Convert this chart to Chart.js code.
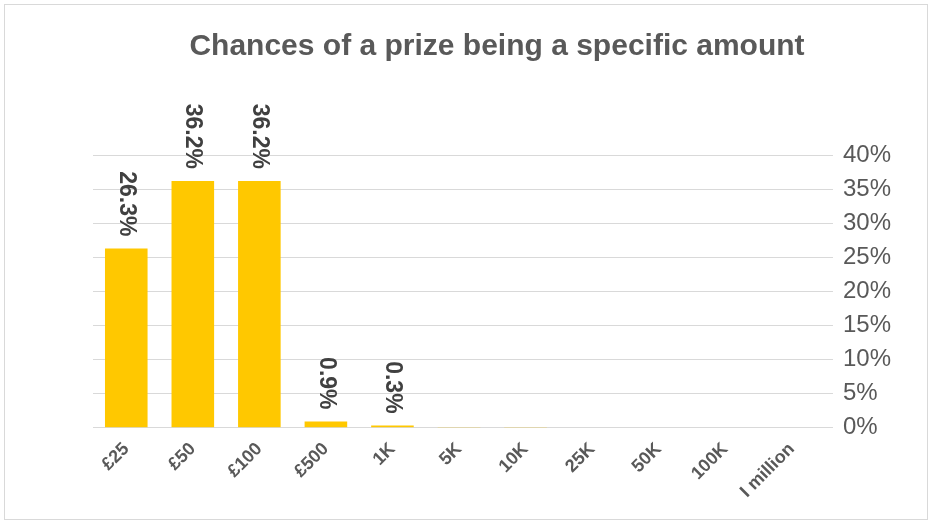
<!DOCTYPE html>
<html><head><meta charset="utf-8">
<script src="https://cdn.jsdelivr.net/npm/chart.js@4"></script>
<style>
body{margin:0;background:#fff;}
#wrap{position:absolute;left:4px;top:4px;width:922px;height:514px;border:1px solid #d9d9d9;}
</style></head><body>
<div id="wrap"><canvas id="c"></canvas></div>
<script>
const categories = ["£25","£50","£100","£500","1K","5K","10K","25K","50K","100K","I million"];
const values = [26.3,36.2,36.2,0.9,0.3,0.02,0.01,0,0,0,0];
const labels = ["26.3%","36.2%","36.2%","0.9%","0.3%","","","","","",""];

const barLabels = {
  id: 'barLabels',
  afterDatasetsDraw(chart) {
    const ctx = chart.ctx;
    chart.getDatasetMeta(0).data.forEach((bar, i) => {
      if (!labels[i]) return;
      ctx.save();
      ctx.translate(bar.x, bar.y - 12);
      ctx.rotate(Math.PI / 2);
      ctx.font = 'bold 23px Liberation Sans, Arial';
      ctx.fillStyle = '#404040';
      ctx.textAlign = 'right';
      ctx.textBaseline = 'middle';
      ctx.fillText(labels[i], 0, 0);
      ctx.restore();
    });
  }
};

new Chart(document.getElementById('c'), {
  type: 'bar',
  data: {
    labels: categories,
    datasets: [{ data: values, backgroundColor: '#ffc800', categoryPercentage: 1, barPercentage: 0.64 }]
  },
  options: {
    responsive: true, maintainAspectRatio: false, animation: false,
    layout: { padding: { left: 88, right: 26, top: 0, bottom: 14 } },
    plugins: {
      legend: { display: false },
      tooltip: { enabled: false },
      title: { display: true, text: 'Chances of a prize being a specific amount', color: '#595959',
        font: { family: 'Liberation Sans, Arial', size: 30, weight: 'bold' }, padding: { top: 24, bottom: 90 } }
    },
    scales: {
      x: {
        grid: { display: false },
        border: { color: '#d9d9d9' },
        ticks: { color: '#595959', maxRotation: 45, minRotation: 45, font: { family: 'Liberation Sans, Arial', size: 18, weight: 'bold' } }
      },
      y: {
        position: 'right', min: 0, max: 40,
        grid: { color: '#d9d9d9' },
        border: { display: false },
        ticks: { stepSize: 5, color: '#595959', padding: 10, callback: v => v + '%', font: { family: 'Liberation Sans, Arial', size: 24 } }
      }
    }
  },
  plugins: [barLabels]
});
</script>
</body></html>
